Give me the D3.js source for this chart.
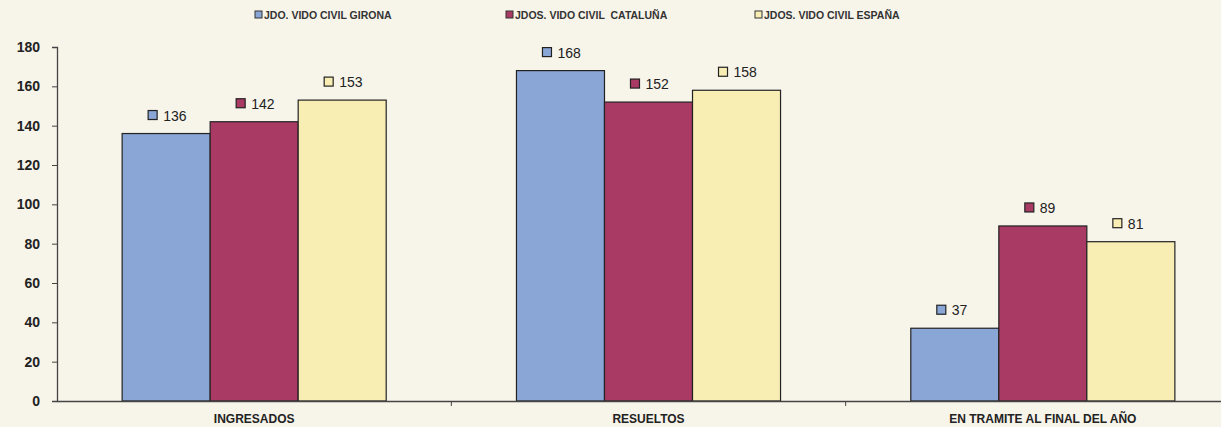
<!DOCTYPE html>
<html>
<head>
<meta charset="utf-8">
<style>
  body { margin: 0; background-color: #f7f4ea; }
  svg { display: block; }
  .tick text { font: bold 14px "Liberation Sans", Arial, sans-serif; fill: #222; }
  .legend text { font: bold 10.5px "Liberation Sans Narrow", "Liberation Sans", Arial, sans-serif; fill: #333; }
  .val { font: 14px "Liberation Sans", Arial, sans-serif; fill: #222; }
</style>
</head>
<body>
<svg width="1221" height="427"></svg>
<script src="https://cdn.jsdelivr.net/npm/d3@7"></script>
<script>
var categories = ["INGRESADOS", "RESUELTOS", "EN TRAMITE AL FINAL DEL AÑO"];
var seriesNames = ["JDO. VIDO CIVIL GIRONA", "JDOS. VIDO CIVIL  CATALUÑA", "JDOS. VIDO CIVIL ESPAÑA"];
var girona = [136, 168, 37];
var cataluna = [142, 152, 89];
var espana = [153, 158, 81];
var yTicks = [0, 20, 40, 60, 80, 100, 120, 140, 160, 180];
var colors = ["#8aa6d6", "#a93a64", "#f8eeb4"];

var series = [girona, cataluna, espana];

var svg = d3.select("svg");

var x0 = d3.scaleBand()
    .domain(categories)
    .range([57, 1240])
    .paddingInner(0)
    .paddingOuter(0);

var x1 = d3.scaleBand()
    .domain(d3.range(series.length))
    .range([0, x0.bandwidth()])
    .paddingInner(0)
    .paddingOuter(0.74);

var y = d3.scaleLinear()
    .domain([0, 180])
    .range([401, 47]);

// y axis
var yAxis = svg.append("g")
    .attr("transform", "translate(57,0)")
    .call(d3.axisLeft(y).tickValues(yTicks).tickSize(5).tickPadding(12));
yAxis.select(".domain").attr("stroke", "#444").attr("stroke-width", 1.3);
yAxis.selectAll(".tick line").attr("stroke", "#444");

// bars
var groups = svg.selectAll(".grp")
    .data(categories)
    .enter().append("g")
    .attr("class", "grp")
    .attr("transform", function(d) { return "translate(" + x0(d) + ",0)"; });

groups.selectAll("rect")
    .data(function(d, i) { return series.map(function(s, j) { return {s: j, v: s[i]}; }); })
    .enter().append("rect")
    .attr("x", function(d) { return x1(d.s); })
    .attr("y", function(d) { return y(d.v); })
    .attr("width", x1.bandwidth())
    .attr("height", function(d) { return y(0) - y(d.v); })
    .attr("fill", function(d) { return colors[d.s]; })
    .attr("stroke", "#222")
    .attr("stroke-width", 1.2);

// value labels
var lab = groups.selectAll(".lab")
    .data(function(d, i) { return series.map(function(s, j) { return {s: j, v: s[i]}; }); })
    .enter().append("g")
    .attr("class", "lab")
    .attr("transform", function(d) {
      return "translate(" + (x1(d.s) + 26) + "," + (y(d.v) - 18) + ")";
    });
lab.append("rect")
    .attr("x", 0).attr("y", -5)
    .attr("width", 9).attr("height", 9)
    .attr("fill", function(d) { return colors[d.s]; })
    .attr("stroke", "#222")
    .attr("stroke-width", 1.2);
lab.append("text")
    .attr("class", "val")
    .attr("x", 15)
    .attr("dy", "0.36em")
    .text(function(d) { return d.v; });

// x axis
var xAxis = svg.append("g")
    .attr("transform", "translate(0,401)")
    .call(d3.axisBottom(x0).tickSize(0).tickPadding(13));
xAxis.select(".domain").attr("stroke", "#444").attr("stroke-width", 1.3);
xAxis.selectAll(".tick text")
    .style("font", "bold 12px 'Liberation Sans Narrow', 'Liberation Sans', Arial, sans-serif");
svg.selectAll(".sep")
    .data(categories.slice(1))
    .enter().append("line")
    .attr("x1", function(d) { return x0(d); })
    .attr("x2", function(d) { return x0(d); })
    .attr("y1", 401).attr("y2", 406)
    .attr("stroke", "#444");

// legend
var legendX = [255, 506, 755];
var legend = svg.append("g").attr("class", "legend")
    .selectAll("g")
    .data(seriesNames)
    .enter().append("g")
    .attr("transform", function(d, i) { return "translate(" + legendX[i] + ",15)"; });
legend.append("rect")
    .attr("x", 0).attr("y", -4)
    .attr("width", 7).attr("height", 7)
    .attr("fill", function(d, i) { return colors[i]; })
    .attr("stroke", "#333")
    .attr("stroke-width", 1);
legend.append("text")
    .attr("x", 9)
    .attr("dy", "0.35em")
    .attr("xml:space", "preserve")
    .text(function(d) { return d; });
</script>
</body>
</html>
